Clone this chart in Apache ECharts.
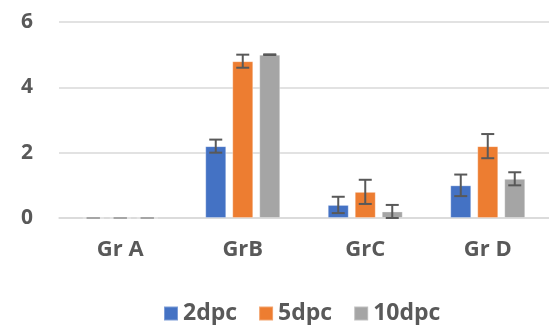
<!DOCTYPE html>
<html>
<head>
<meta charset="utf-8">
<script src="https://cdn.jsdelivr.net/npm/echarts@6/dist/echarts.min.js"></script>
<style>
  html, body { margin: 0; padding: 0; background: #fff; }
  #chart { width: 549px; height: 325px; }
</style>
</head>
<body>
<div id="chart"></div>
<script>
const categories = ['Gr A', 'GrB', 'GrC', 'Gr D'];
const seriesNames = ['2dpc', '5dpc', '10dpc'];
const values2 = [0, 2.2, 0.4, 1.0];
const errors2 = [0, 0.2, 0.25, 0.33];
const values5 = [0, 4.8, 0.8, 2.2];
const errors5 = [0, 0.2, 0.37, 0.37];
const values10 = [0, 5.0, 0.2, 1.2];
const errors10 = [0, 0.01, 0.2, 0.2];
const yTicks = [0, 2, 4, 6];

const colors = ['#4472C4', '#ED7D31', '#A5A5A5'];
const valueSets = [values2, values5, values10];
const errorSets = [errors2, errors5, errors10];

const barWidth = 21;
const barGapPx = 6;
const textColor = '#595959';
const fontFamily = '"Open Sans", sans-serif';

const chart = echarts.init(document.getElementById('chart'));

// error bars drawn on top of each bar, shifted to the bar's slot
function errorBarRenderer(slot) {
    return function (params, api) {
        const x = api.value(0);
        const val = api.value(1);
        const err = api.value(2);
        const hi = api.coord([x, val + err]);
        const lo = api.coord([x, Math.max(val - err, 0)]);
        const cx = hi[0] + slot * (barWidth + barGapPx);
        const half = 6.5;
        // zero-size bars only show a faint cap on the axis
        const stroke = err > 0 ? '#595959' : '#A6A6A6';
        const style = { stroke: stroke, lineWidth: 2 };
        return {
            type: 'group',
            children: [
                { type: 'line', shape: { x1: cx, y1: hi[1], x2: cx, y2: lo[1] }, style: style },
                { type: 'line', shape: { x1: cx - half, y1: hi[1], x2: cx + half, y2: hi[1] }, style: style },
                { type: 'line', shape: { x1: cx - half, y1: lo[1], x2: cx + half, y2: lo[1] }, style: style }
            ]
        };
    };
}

const barSeries = seriesNames.map((name, i) => ({
    name: name,
    type: 'bar',
    data: valueSets[i],
    barWidth: barWidth,
    barGap: (barGapPx / barWidth * 100) + '%',
    itemStyle: {
        color: colors[i],
        borderColor: 'rgba(255,255,255,0.3)',
        borderWidth: 1
    },
    silent: true
}));

const errSeries = seriesNames.map((name, i) => ({
    name: name + ' err',
    type: 'custom',
    renderItem: errorBarRenderer(i - 1),
    data: categories.map((c, j) => [j, valueSets[i][j], errorSets[i][j]]),
    z: 10,
    silent: true
}));

chart.setOption({
    animation: false,
    grid: { left: 59, right: 0, top: 22, bottom: 107 },
    legend: {
        data: seriesNames,
        left: 158,
        top: 297,
        itemWidth: 14,
        itemHeight: 14,
        itemGap: 21,
        icon: 'rect',
        textStyle: { color: textColor, fontSize: 23, fontWeight: 'bold', fontFamily: fontFamily }
    },
    xAxis: {
        type: 'category',
        data: categories,
        axisLine: { lineStyle: { color: '#D9D9D9', width: 1.5 } },
        axisTick: { show: false },
        axisLabel: { color: textColor, fontSize: 22, fontWeight: 'bold', fontFamily: fontFamily, margin: 21 }
    },
    yAxis: {
        type: 'value',
        min: yTicks[0],
        max: yTicks[yTicks.length - 1],
        interval: yTicks[1] - yTicks[0],
        axisLine: { show: false },
        axisTick: { show: false },
        splitLine: { lineStyle: { color: '#D9D9D9', width: 1.5 } },
        axisLabel: { color: textColor, fontSize: 21, fontWeight: 'bold', fontFamily: fontFamily, margin: 26 }
    },
    series: barSeries.concat(errSeries)
});
</script>
</body>
</html>
